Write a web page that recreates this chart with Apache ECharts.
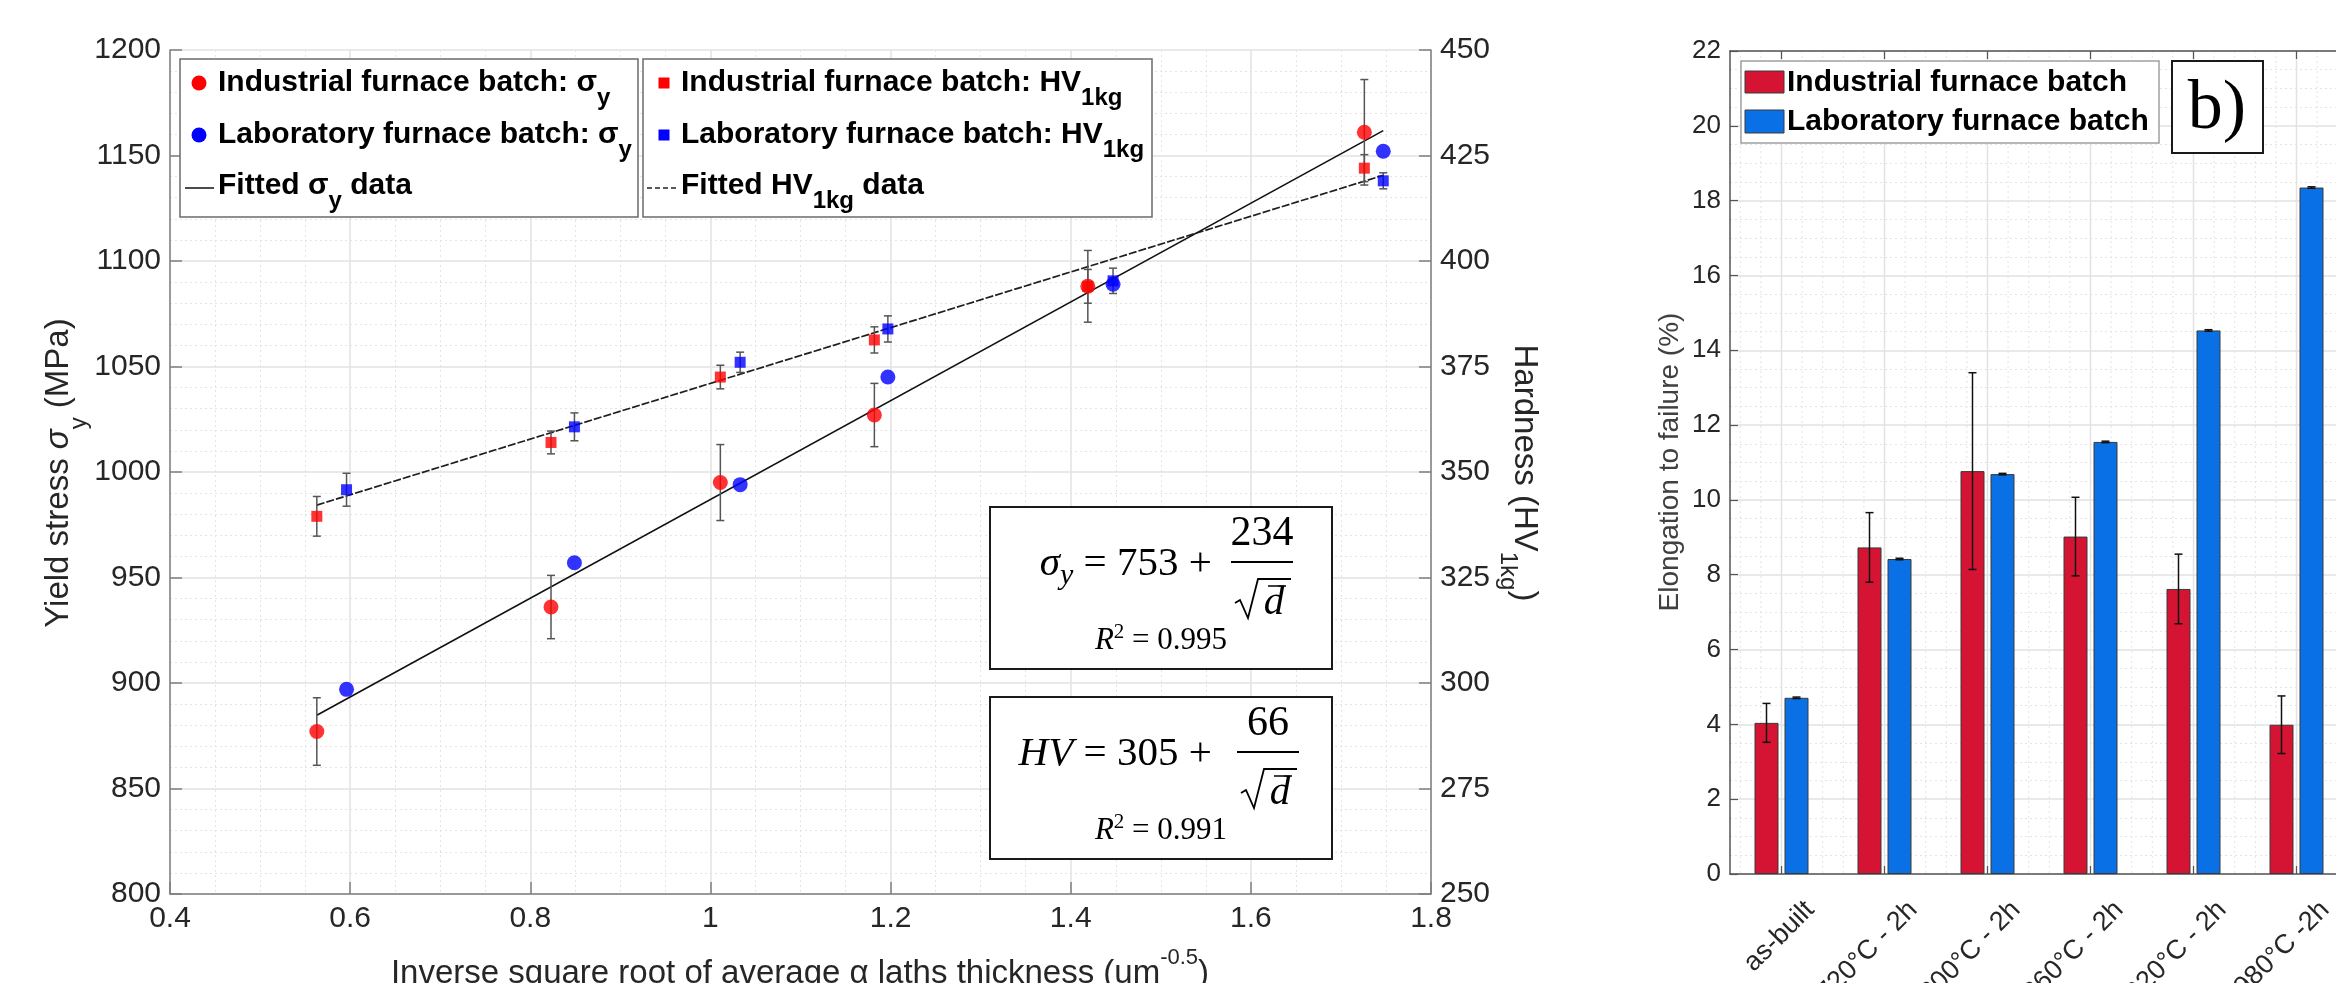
<!DOCTYPE html>
<html>
<head>
<meta charset="utf-8">
<script src="https://cdn.jsdelivr.net/npm/echarts@6/dist/echarts.min.js"></script>
<style>
  html, body { margin: 0; padding: 0; background: #fff; overflow: hidden; }
  #chart { width: 2400px; height: 983px; }
</style>
</head>
<body>
<div id="chart"></div>
<script>
// ---------- panel a): yield stress and hardness vs inverse square root of alpha lath thickness ----------
const invSqrtInd = [0.563, 0.823, 1.011, 1.182, 1.419, 1.726];
const yieldInd = [877, 936, 995, 1027, 1088, 1161];
const yieldIndErr = [16, 15, 18, 15, 17, 25];
const hvInd = [339.5, 357, 372.5, 381.3, 394, 422];
const hvIndErr = [4.7, 2.7, 2.8, 3.1, 4.0, 3.2];

const invSqrtLab = [0.596, 0.849, 1.033, 1.197, 1.447, 1.747];
const yieldLab = [897, 957, 994, 1045, 1089, 1152];
const hvLab = [345.8, 360.7, 376, 383.9, 395.3, 419];
const hvLabErr = [3.9, 3.3, 2.4, 3.1, 3.0, 1.9];

// Hall-Petch fits: value = intercept + slope / sqrt(d)
const yieldFit = [753, 234];
const hvFit = [305, 66];
const yieldR2 = '0.995';
const hvR2 = '0.991';

// ---------- panel b): elongation to failure per heat treatment ----------
const treatments = ['as-built', '720°C - 2h', '800°C - 2h', '860°C - 2h', '920°C - 2h', '980°C -2h'];
const elongInd = [4.04, 8.73, 10.77, 9.02, 7.62, 3.99];
const elongIndErr = [0.52, 0.93, 2.63, 1.05, 0.93, 0.77];
const elongLab = [4.71, 8.42, 10.69, 11.55, 14.53, 18.35];
const elongLabErr = [0.02, 0.02, 0.02, 0.02, 0.02, 0.02];

// ---------- styling ----------
const SANS = '"Liberation Sans", Arial, sans-serif';
const SERIF = '"Liberation Serif", "Times New Roman", serif';
const TXT = '#262626';
const RED_BAR = '#d41432';
const BLUE_BAR = '#0a70e6';
const BAR_W = 24, BAR_GAP = 6;
const GRID_MAJOR = { color: '#e2e2e2', width: 1.5 };
const GRID_MINOR = { color: '#e4e4e4', width: 1, type: [2, 3] };

// text runs with sub/superscripts, laid out with measured widths
const mctx = document.createElement('canvas').getContext('2d');
function fontOf(p) {
  return (p.style || 'normal') + ' ' + (p.weight || 'normal') + ' ' + p.size + 'px ' + (p.family || SANS);
}
function textRun(parts, align, color) {
  const widths = parts.map(p => { mctx.font = fontOf(p); return mctx.measureText(p.t).width; });
  const total = widths.reduce((a, b) => a + b, 0);
  let x = align === 'center' ? -total / 2 : (align === 'right' ? -total : 0);
  return parts.map((p, i) => {
    const el = {
      type: 'text', x: x, y: p.dy || 0, z: 120,
      style: { text: p.t, font: fontOf(p), fill: p.color || color || '#000',
               textAlign: 'left', align: 'left', textVerticalAlign: 'middle', verticalAlign: 'middle' }
    };
    x += widths[i];
    return el;
  });
}
function label(x, y, parts, align, rotation, color) {
  return { type: 'group', x: x, y: y, rotation: rotation || 0, z: 120, children: textRun(parts, align, color) };
}

// ---------- error bar renderer ----------
function errorBars(capHalf, color, shift) {
  return function (params, api) {
    const x = api.value(0), y = api.value(1), e = api.value(2);
    const hi = api.coord([x, y + e]);
    const lo = api.coord([x, y - e]);
    const cx = hi[0] + (shift || 0);
    const st = { stroke: color, lineWidth: 1.5 };
    return {
      type: 'group',
      children: [
        { type: 'line', shape: { x1: cx, y1: hi[1], x2: cx, y2: lo[1] }, style: st },
        { type: 'line', shape: { x1: cx - capHalf, y1: hi[1], x2: cx + capHalf, y2: hi[1] }, style: st },
        { type: 'line', shape: { x1: cx - capHalf, y1: lo[1], x2: cx + capHalf, y2: lo[1] }, style: st }
      ]
    };
  };
}

const zipErr = (xs, ys, es) => xs.map((x, i) => [x, ys[i], es[i]]);
const zip = (xs, ys) => xs.map((x, i) => [x, ys[i]]);

const xAll = invSqrtInd.concat(invSqrtLab);
const fitRange = [Math.min.apply(null, xAll), Math.max.apply(null, xAll)];
const fitLine = c => fitRange.map(x => [x, c[0] + c[1] * x]);

// ---------- annotation graphics ----------
const graphics = [];

// legend boxes, panel a
graphics.push(
  { type: 'rect', z: 100, shape: { x: 180, y: 59, width: 458, height: 158 }, style: { fill: '#fff', stroke: '#6b6b6b', lineWidth: 1.5 } },
  { type: 'rect', z: 100, shape: { x: 643, y: 59, width: 509, height: 158 }, style: { fill: '#fff', stroke: '#6b6b6b', lineWidth: 1.5 } },
  { type: 'circle', z: 101, shape: { cx: 199, cy: 83, r: 7.5 }, style: { fill: '#ff0000' } },
  { type: 'circle', z: 101, shape: { cx: 199, cy: 135, r: 7.5 }, style: { fill: '#0000ff' } },
  { type: 'line', z: 101, shape: { x1: 185, y1: 188, x2: 214, y2: 188 }, style: { stroke: '#111', lineWidth: 1.5 } },
  { type: 'rect', z: 101, shape: { x: 658.5, y: 77.5, width: 11, height: 11 }, style: { fill: '#ff0000' } },
  { type: 'rect', z: 101, shape: { x: 658.5, y: 129.5, width: 11, height: 11 }, style: { fill: '#0000ff' } },
  { type: 'line', z: 101, shape: { x1: 647, y1: 188, x2: 679, y2: 188 }, style: { stroke: '#222', lineWidth: 1.5, lineDash: [5, 3] } }
);
const LB = { size: 30, weight: 'bold' };
const LS = { size: 24, weight: 'bold', dy: 15 };
graphics.push(
  label(218, 83, [Object.assign({ t: 'Industrial furnace batch: σ' }, LB), Object.assign({ t: 'y' }, LS)], 'left'),
  label(218, 135, [Object.assign({ t: 'Laboratory furnace batch: σ' }, LB), Object.assign({ t: 'y' }, LS)], 'left'),
  label(218, 186, [Object.assign({ t: 'Fitted σ' }, LB), Object.assign({ t: 'y' }, LS), Object.assign({ t: ' data' }, LB)], 'left'),
  label(681, 83, [Object.assign({ t: 'Industrial furnace batch: HV' }, LB), Object.assign({ t: '1kg' }, LS)], 'left'),
  label(681, 135, [Object.assign({ t: 'Laboratory furnace batch: HV' }, LB), Object.assign({ t: '1kg' }, LS)], 'left'),
  label(681, 186, [Object.assign({ t: 'Fitted HV' }, LB), Object.assign({ t: '1kg' }, LS), Object.assign({ t: ' data' }, LB)], 'left')
);

// fit equation boxes
function equationBox(top, lhs, fit, r2, dx) {
  const els = [];
  els.push({ type: 'rect', z: 100, shape: { x: 990, y: top, width: 342, height: 162 }, style: { fill: '#fff', stroke: '#1a1a1a', lineWidth: 2 } });
  els.push(label(1222, top + 57, lhs.concat([{ t: ' = ' + fit[0] + ' + ', size: 41, family: SERIF }]), 'right'));
  els.push(label(1262 + dx, top + 27, [{ t: String(fit[1]), size: 42, family: SERIF }], 'center'));
  els.push({ type: 'line', z: 101, shape: { x1: 1231 + dx, y1: top + 55, x2: 1293 + dx, y2: top + 55 }, style: { stroke: '#000', lineWidth: 2 } });
  const cx = 1274 + dx, cy = top + 96;
  els.push(label(cx, cy, [{ t: 'd', size: 41, style: 'italic', family: SERIF }], 'center'));
  els.push({ type: 'polyline', z: 101, shape: { points: [[cx - 39, cy], [cx - 34, cy - 3], [cx - 26, cy + 15], [cx - 16, cy - 24], [cx + 17, cy - 24]] },
             style: { stroke: '#000', lineWidth: 1.8, fill: null } });
  els.push({ type: 'line', z: 101, shape: { x1: cx - 6, y1: cy - 17, x2: cx + 12, y2: cy - 17 }, style: { stroke: '#000', lineWidth: 1.5 } });
  els.push(label(1161, top + 134, [
    { t: 'R', size: 31, style: 'italic', family: SERIF },
    { t: '2', size: 21, family: SERIF, dy: -9 },
    { t: ' = ' + r2, size: 31, family: SERIF }
  ], 'center'));
  return els;
}
graphics.push.apply(graphics, equationBox(507,
  [{ t: 'σ', size: 41, style: 'italic', family: SERIF }, { t: 'y', size: 30, style: 'italic', family: SERIF, dy: 12 }],
  yieldFit, yieldR2, 0));
graphics.push.apply(graphics, equationBox(697,
  [{ t: 'HV', size: 41, style: 'italic', family: SERIF }],
  hvFit, hvR2, 6));

// axis titles, panel a
graphics.push(
  label(800, 974, [
    { t: 'Inverse square root of average α laths thickness (um', size: 33 },
    { t: '-0.5', size: 22, dy: -16 },
    { t: ')', size: 33 }
  ], 'center', 0, TXT),
  label(59, 473, [
    { t: 'Yield stress ', size: 33 },
    { t: 'σ', size: 33, style: 'italic' },
    { t: 'y', size: 24, dy: 20 },
    { t: ' (MPa)', size: 33 }
  ], 'center', Math.PI / 2, TXT),
  label(1524, 473, [
    { t: 'Hardness (HV', size: 33 },
    { t: '1kg', size: 24, dy: 16 },
    { t: ')', size: 33 }
  ], 'center', -Math.PI / 2, TXT)
);

// panel b legend, tag and axis title
graphics.push(
  { type: 'rect', z: 100, shape: { x: 1741, y: 61, width: 418, height: 82 }, style: { fill: '#fff', stroke: '#a0a0a0', lineWidth: 1.5 } },
  { type: 'rect', z: 101, shape: { x: 1745, y: 71, width: 39, height: 22 }, style: { fill: RED_BAR, stroke: '#3a3a3a', lineWidth: 1 } },
  { type: 'rect', z: 101, shape: { x: 1745, y: 110, width: 39, height: 23 }, style: { fill: BLUE_BAR, stroke: '#3a3a3a', lineWidth: 1 } },
  label(1787, 83, [{ t: 'Industrial furnace batch', size: 30, weight: 'bold' }], 'left'),
  label(1787, 122, [{ t: 'Laboratory furnace batch', size: 30, weight: 'bold' }], 'left'),
  { type: 'rect', z: 100, shape: { x: 2172, y: 61, width: 91, height: 92 }, style: { fill: '#fff', stroke: '#1a1a1a', lineWidth: 2 } },
  label(2217, 110, [{ t: 'b)', size: 70, family: SERIF }], 'center'),
  label(1670, 462, [{ t: 'Elongation to failure (%)', size: 28 }], 'center', Math.PI / 2, '#404040')
);

// ---------- chart ----------
const chart = echarts.init(document.getElementById('chart'));
const plain = v => String(v);

const valueAxisBase = (extra) => Object.assign({
  type: 'value',
  axisLine: { show: true, lineStyle: { color: '#7f7f7f', width: 1.5 } },
  axisTick: { show: true, inside: true, length: 12, lineStyle: { color: '#7f7f7f', width: 1.5 } },
  axisLabel: { color: TXT, fontSize: 30, fontFamily: SANS, margin: 9, formatter: plain },
  splitLine: { show: true, lineStyle: GRID_MAJOR },
  minorSplitLine: { show: true, lineStyle: GRID_MINOR }
}, extra);

const option = {
  animation: false,
  backgroundColor: '#fff',
  grid: [
    { left: 170, top: 50, width: 1261, height: 844, outerBoundsMode: 'none', containLabel: false },
    { left: 1730, top: 51, width: 618, height: 823, outerBoundsMode: 'none', containLabel: false }
  ],
  xAxis: [
    valueAxisBase({
      gridIndex: 0, min: 0.4, max: 1.8, interval: 0.2,
      minorTick: { show: false, splitNumber: 4 },
      axisLabel: { color: TXT, fontSize: 30, fontFamily: SANS, margin: 10, formatter: plain }
    }),
    {
      type: 'category', gridIndex: 1, data: treatments, boundaryGap: true, position: 'bottom',
      axisLine: { show: true, lineStyle: { color: '#555', width: 1.5 } },
      axisTick: { show: true, inside: true, alignWithLabel: true, length: 8, lineStyle: { color: '#555', width: 1.2 } },
      axisLabel: { rotate: 45, interval: 0, color: TXT, fontSize: 27, fontFamily: SANS, margin: 3,
                   verticalAlign: 'top', padding: [27, 0, 0, 0] },
      splitLine: { show: false }
    },
    {
      type: 'category', gridIndex: 1, data: treatments, boundaryGap: true, position: 'top',
      axisLine: { show: true, lineStyle: { color: '#555', width: 1.5 } },
      axisTick: { show: true, inside: true, alignWithLabel: true, length: 8, lineStyle: { color: '#555', width: 1.2 } },
      axisLabel: { show: false },
      splitLine: { show: false }
    }
  ],
  yAxis: [
    valueAxisBase({ gridIndex: 0, min: 800, max: 1200, interval: 50, position: 'left',
                    minorTick: { show: false, splitNumber: 5 } }),
    valueAxisBase({ gridIndex: 0, min: 250, max: 450, interval: 25, position: 'right',
                    splitLine: { show: false }, minorSplitLine: { show: false } }),
    {
      type: 'value', gridIndex: 1, min: 0, max: 22, interval: 2, position: 'left',
      axisLine: { show: true, lineStyle: { color: '#555', width: 1.5 } },
      axisTick: { show: true, inside: true, length: 8, lineStyle: { color: '#555', width: 1.2 } },
      axisLabel: { color: TXT, fontSize: 26, fontFamily: SANS, margin: 9, formatter: plain },
      splitLine: { show: true, lineStyle: GRID_MAJOR },
      minorTick: { show: false, splitNumber: 4 },
      minorSplitLine: { show: true, lineStyle: GRID_MINOR }
    }
  ],
  series: [
    // fitted lines
    { name: 'Fitted σy data', type: 'line', xAxisIndex: 0, yAxisIndex: 0, data: fitLine(yieldFit),
      symbol: 'none', z: 2, lineStyle: { color: '#111', width: 1.6 } },
    { name: 'Fitted HV1kg data', type: 'line', xAxisIndex: 0, yAxisIndex: 1, data: fitLine(hvFit),
      symbol: 'none', z: 2, lineStyle: { color: '#1e1e1e', width: 1.7, type: [8, 2] } },
    // error bars
    { type: 'custom', xAxisIndex: 0, yAxisIndex: 0, z: 3, silent: true, encode: { x: 0, y: 1 },
      data: zipErr(invSqrtInd, yieldInd, yieldIndErr), renderItem: errorBars(4, '#555') },
    { type: 'custom', xAxisIndex: 0, yAxisIndex: 1, z: 3, silent: true, encode: { x: 0, y: 1 },
      data: zipErr(invSqrtInd, hvInd, hvIndErr), renderItem: errorBars(4, '#555') },
    { type: 'custom', xAxisIndex: 0, yAxisIndex: 1, z: 3, silent: true, encode: { x: 0, y: 1 },
      data: zipErr(invSqrtLab, hvLab, hvLabErr), renderItem: errorBars(4, '#555') },
    // markers
    { name: 'Industrial furnace batch: σy', type: 'scatter', xAxisIndex: 0, yAxisIndex: 0, z: 4,
      data: zip(invSqrtInd, yieldInd), symbol: 'circle', symbolSize: 15, itemStyle: { color: '#ff0000' } },
    { name: 'Laboratory furnace batch: σy', type: 'scatter', xAxisIndex: 0, yAxisIndex: 0, z: 4,
      data: zip(invSqrtLab, yieldLab), symbol: 'circle', symbolSize: 15, itemStyle: { color: '#0000ff' } },
    { name: 'Industrial furnace batch: HV1kg', type: 'scatter', xAxisIndex: 0, yAxisIndex: 1, z: 4,
      data: zip(invSqrtInd, hvInd), symbol: 'rect', symbolSize: 11, itemStyle: { color: '#ff0000' } },
    { name: 'Laboratory furnace batch: HV1kg', type: 'scatter', xAxisIndex: 0, yAxisIndex: 1, z: 4,
      data: zip(invSqrtLab, hvLab), symbol: 'rect', symbolSize: 11, itemStyle: { color: '#0000ff' } },

    // panel b vertical grid (category centres and fifths)
    { type: 'custom', xAxisIndex: 1, yAxisIndex: 2, z: 0, silent: true,
      data: treatments.map((_, i) => [i, 0]),
      renderItem: function (params, api) {
        const c = api.coord([api.value(0), 0]);
        const band = api.size([1, 0])[0];
        const top = params.coordSys.y, bottom = params.coordSys.y + params.coordSys.height;
        const children = [{ type: 'line', shape: { x1: c[0], y1: top, x2: c[0], y2: bottom },
                            style: { stroke: GRID_MAJOR.color, lineWidth: 1.5 } }];
        [-0.4, -0.2, 0.2, 0.4].forEach(f => children.push({
          type: 'line', shape: { x1: c[0] + f * band, y1: top, x2: c[0] + f * band, y2: bottom },
          style: { stroke: GRID_MINOR.color, lineWidth: 1, lineDash: [2, 3] }
        }));
        return { type: 'group', children: children };
      } },
    // bars
    { name: 'Industrial furnace batch', type: 'bar', xAxisIndex: 1, yAxisIndex: 2, data: elongInd, z: 2,
      barWidth: BAR_W, barGap: (BAR_GAP / BAR_W * 100) + '%',
      itemStyle: { color: RED_BAR, borderColor: '#3a3a3a', borderWidth: 1 } },
    { name: 'Laboratory furnace batch', type: 'bar', xAxisIndex: 1, yAxisIndex: 2, data: elongLab, z: 2,
      barWidth: BAR_W, barGap: (BAR_GAP / BAR_W * 100) + '%',
      itemStyle: { color: BLUE_BAR, borderColor: '#3a3a3a', borderWidth: 1 } },
    { type: 'custom', xAxisIndex: 1, yAxisIndex: 2, z: 5, silent: true,
      data: zipErr(treatments.map((_, i) => i), elongInd, elongIndErr),
      renderItem: errorBars(4, '#111', -(BAR_W + BAR_GAP) / 2) },
    { type: 'custom', xAxisIndex: 1, yAxisIndex: 2, z: 5, silent: true,
      data: zipErr(treatments.map((_, i) => i), elongLab, elongLabErr),
      renderItem: errorBars(4, '#111', (BAR_W + BAR_GAP) / 2) }
  ],
  graphic: graphics
};

chart.setOption(option);
</script>
</body>
</html>
